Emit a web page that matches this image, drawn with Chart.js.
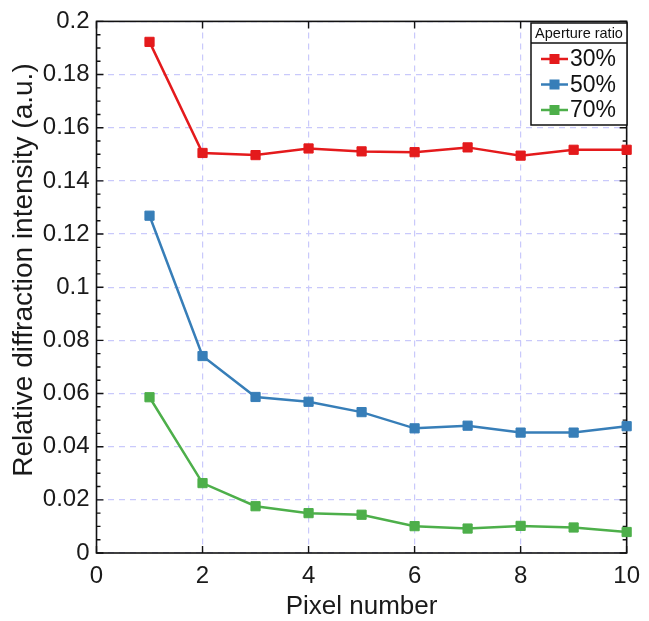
<!DOCTYPE html>
<html>
<head>
<meta charset="utf-8">
<script src="https://cdn.jsdelivr.net/npm/chart.js@4"></script>
<style>
  html, body { margin: 0; padding: 0; background: #fff; }
  #wrap { width: 649px; height: 621px; }
</style>
</head>
<body>
<div id="wrap"><canvas id="myChart" width="649" height="621"></canvas></div>
<script>
var FONT = '"Liberation Sans", Arial, sans-serif';

// pixel index along the x axis
var pixels = [1, 2, 3, 4, 5, 6, 7, 8, 9, 10];
// relative diffraction intensity for each aperture ratio
var ratio30 = [0.1923, 0.1505, 0.1497, 0.1522, 0.1511, 0.1508, 0.1526, 0.1495, 0.1517, 0.1517];
var ratio50 = [0.1269, 0.0741, 0.0587, 0.0569, 0.0530, 0.0469, 0.0479, 0.0453, 0.0453, 0.0477];
var ratio70 = [0.0586, 0.0263, 0.0176, 0.0150, 0.0144, 0.0101, 0.0092, 0.0102, 0.0096, 0.0079];
var seriesLabels = ["30%", "50%", "70%"];
var seriesColors = ["#e41a1c", "#377eb8", "#4daf4a"];
var legendTitle = "Aperture ratio";
var xTitle = "Pixel number";
var yTitle = "Relative diffraction intensity (a.u.)";

var xMin = 0, xMax = 10, xStep = 2;
var yMin = 0, yMax = 0.2, yStep = 0.02, yMinorStep = 0.005;

function points(values) {
  return pixels.map(function(p, i) { return { x: p, y: values[i] }; });
}

function makeSet(label, values, color) {
  return {
    label: label,
    data: points(values),
    borderColor: color,
    backgroundColor: color,
    borderWidth: 2.5,
    pointStyle: "rect",
    pointRadius: 6.5,
    pointBorderWidth: 1,
    pointBorderColor: color,
    pointBackgroundColor: color,
    tension: 0,
    clip: false
  };
}

// box, inward ticks on all four sides, and the two axis titles
var frame = {
  id: "frame",
  beforeDatasetsDraw: function(chart) {
    var ctx = chart.ctx, a = chart.chartArea;
    var xs = chart.scales.x, ys = chart.scales.y;
    ctx.save();
    ctx.strokeStyle = "#111";
    ctx.lineWidth = 1.6;
    ctx.strokeRect(a.left, a.top, a.right - a.left, a.bottom - a.top);
    ctx.lineWidth = 1.4;
    ctx.beginPath();
    var n = Math.round((yMax - yMin) / yMinorStep);
    for (var i = 0; i <= n; i++) {
      var py = ys.getPixelForValue(yMin + i * yMinorStep);
      var len = (i % 4 === 0) ? 7 : 4;
      ctx.moveTo(a.left, py); ctx.lineTo(a.left + len, py);
      ctx.moveTo(a.right, py); ctx.lineTo(a.right - len, py);
    }
    for (var v = xMin; v <= xMax; v += xStep) {
      var px = xs.getPixelForValue(v);
      ctx.moveTo(px, a.bottom); ctx.lineTo(px, a.bottom - 7);
      ctx.moveTo(px, a.top); ctx.lineTo(px, a.top + 7);
    }
    ctx.stroke();

    ctx.fillStyle = "#1a1a1a";
    ctx.textAlign = "center";
    ctx.textBaseline = "alphabetic";
    ctx.font = "26px " + FONT;
    ctx.fillText(xTitle, (a.left + a.right) / 2, 614);
    ctx.translate(32, 270);
    ctx.rotate(-Math.PI / 2);
    ctx.font = "28px " + FONT;
    ctx.fillText(yTitle, 0, 0);
    ctx.restore();
  }
};

// boxed legend with a title row in the upper right corner
var legendBox = {
  id: "legendBox",
  afterDraw: function(chart) {
    var ctx = chart.ctx;
    var x0 = 531, y0 = 23, w = 96, h = 102, titleH = 20;
    ctx.save();
    ctx.fillStyle = "#fff";
    ctx.fillRect(x0, y0, w, h);
    ctx.strokeStyle = "#111";
    ctx.lineWidth = 1.5;
    ctx.strokeRect(x0, y0, w, h);
    ctx.beginPath();
    ctx.moveTo(x0, y0 + titleH); ctx.lineTo(x0 + w, y0 + titleH);
    ctx.stroke();
    ctx.fillStyle = "#111";
    ctx.font = "14.5px " + FONT;
    ctx.textAlign = "center";
    ctx.textBaseline = "middle";
    ctx.fillText(legendTitle, x0 + w / 2, y0 + titleH / 2 + 1);
    ctx.textAlign = "left";
    ctx.font = "23px " + FONT;
    chart.data.datasets.forEach(function(ds, i) {
      var cy = y0 + titleH + 16 + i * 25.5;
      ctx.strokeStyle = ds.borderColor;
      ctx.lineWidth = 2.5;
      ctx.beginPath();
      ctx.moveTo(x0 + 10, cy); ctx.lineTo(x0 + 37, cy);
      ctx.stroke();
      ctx.fillStyle = ds.borderColor;
      ctx.fillRect(x0 + 18.5, cy - 5, 10, 10);
      ctx.fillStyle = "#111";
      ctx.fillText(ds.label, x0 + 39, cy + 1);
    });
    ctx.restore();
  }
};

var gridStyle = {
  color: "#c9c9fb",
  lineWidth: 1.2,
  drawTicks: false,
  dash: [6, 5],
  borderDash: [6, 5]
};

var myChart = new Chart(document.getElementById("myChart").getContext("2d"), {
  type: "line",
  data: {
    datasets: [
      makeSet(seriesLabels[0], ratio30, seriesColors[0]),
      makeSet(seriesLabels[1], ratio50, seriesColors[1]),
      makeSet(seriesLabels[2], ratio70, seriesColors[2])
    ]
  },
  options: {
    responsive: false,
    animation: false,
    layout: { padding: { top: 16, right: 15.5, left: 0, bottom: 0 } },
    plugins: { legend: { display: false }, tooltip: { enabled: false } },
    scales: {
      x: {
        type: "linear",
        min: xMin, max: xMax,
        border: { display: false, dash: [6, 5] },
        grid: gridStyle,
        ticks: { stepSize: xStep, padding: 9, color: "#1a1a1a", font: { family: FONT, size: 24 } },
        afterFit: function(s) { s.height = 68; }
      },
      y: {
        min: yMin, max: yMax,
        border: { display: false, dash: [6, 5] },
        grid: gridStyle,
        ticks: {
          stepSize: yStep, padding: 7, color: "#1a1a1a", font: { family: FONT, size: 24 },
          callback: function(v) { return String(Math.round(v * 1000) / 1000); }
        },
        afterFit: function(s) { s.width = 96.5; }
      }
    }
  },
  plugins: [frame, legendBox]
});
</script>
</body>
</html>
